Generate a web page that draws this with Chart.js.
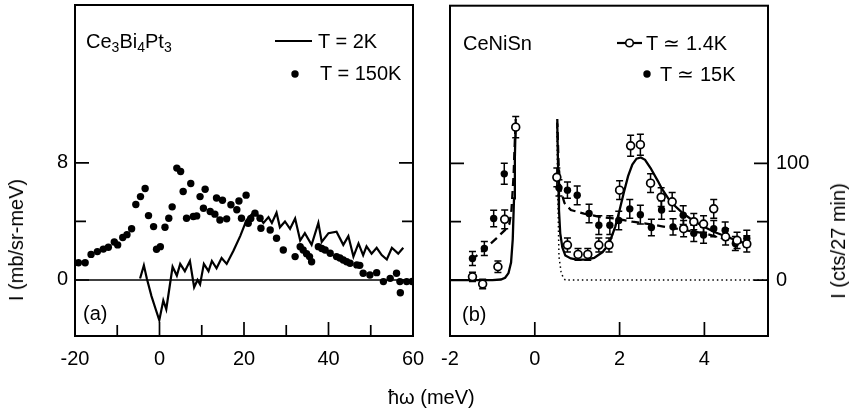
<!DOCTYPE html>
<html>
<head>
<meta charset="utf-8">
<script src="https://cdn.jsdelivr.net/npm/chart.js@4.4.1/dist/chart.umd.min.js"></script>
<style>
  html, body { margin:0; padding:0; background:#fff; }
  #wrap { position:relative; width:849px; height:413px; overflow:hidden; background:#fff;
          font-family:'Liberation Sans', Arial, Helvetica, sans-serif; color:#000; }
  #ca { position:absolute; left:0; top:0; }
  #cb { position:absolute; left:430px; top:0; }
  .t { position:absolute; font-size:20px; line-height:20px; white-space:nowrap; z-index:5; }
  .t sub { font-size:14px; vertical-align:-4px; line-height:0; }
  .rot { transform-origin:center center; }
</style>
</head>
<body>
<div id="wrap">
  <canvas id="ca" width="430" height="413"></canvas>
  <canvas id="cb" width="419" height="413"></canvas>

  <div class="t" style="left:86px; top:31px;">Ce<sub>3</sub>Bi<sub>4</sub>Pt<sub>3</sub></div>
  <div class="t" style="left:318px; top:31px;">T = 2K</div>
  <div class="t" style="left:320px; top:63px;">T = 150K</div>
  <div class="t" style="left:83px; top:303px;">(a)</div>

  <div class="t" style="left:463px; top:33px;">CeNiSn</div>
  <div class="t" style="left:646px; top:33px;">T ≃ 1.4K</div>
  <div class="t" style="left:660px; top:64px;">T ≃ 15K</div>
  <div class="t" style="left:462px; top:304px;">(b)</div>

  <div class="t" id="xt" style="left:388px; top:387px;">ħω (meV)</div>
  <div class="t rot" id="ylt" style="left:16px; top:240px; transform:translate(-50%,-50%) rotate(-90deg);">I (mb/sr-meV)</div>
  <div class="t rot" id="yrt" style="left:838px; top:241px; transform:translate(-50%,-50%) rotate(-90deg);">I (cts/27 min)</div>
</div>

<script>
// ---------------- DATA ----------------
// Panel (a): Ce3Bi4Pt3, x = energy transfer (meV), y = I (mb/sr-meV)
const aXTicks = [-20, -10, 0, 10, 20, 30, 40, 50, 60];
const aXLabels = [-20, 0, 20, 40, 60];
const aYTicks = [0, 4, 8];
const aYLabels = [0, 8];

// T = 2K (solid line)
const a2K = [
  [-4.6, 0.1], [-3.7, 1.0], [-3.0, 0.1], [-1.9, -1.1], [-0.9, -2.0], [-0.05, -2.75],
  [0.9, -1.4], [1.6, -2.0], [3.1, 0.9], [4.1, 0.3], [4.9, 1.1], [6.0, 0.6], [7.2, 1.3],
  [8.2, -0.5], [9.0, 0.0], [9.6, -0.3], [10.5, 1.1], [11.6, 0.6], [12.4, 1.3], [13.5, 0.8],
  [14.7, 1.5], [15.9, 1.1], [17.5, 2.0], [19.1, 3.0], [20.6, 4.1], [22.2, 4.6], [23.4, 4.4],
  [24.6, 3.9], [25.8, 4.3], [26.6, 3.9], [27.7, 4.6], [28.5, 3.6], [29.7, 4.0], [30.9, 3.5],
  [32.1, 4.2], [33.3, 2.7], [34.4, 3.2], [36.0, 2.4], [37.6, 3.9], [38.4, 2.6], [40.0, 3.2],
  [41.9, 3.3], [43.5, 2.4], [44.7, 3.0], [45.9, 1.6], [47.1, 2.5], [48.2, 1.7], [49.0, 2.3],
  [50.2, 1.8], [51.4, 2.2], [52.6, 1.7], [53.8, 1.4], [55.0, 2.2], [56.5, 1.8], [57.7, 2.2]
];

// T = 150K (dots)
const a150K = [
  [-19.2, 1.18], [-17.6, 1.18], [-16.2, 1.75], [-14.7, 1.94], [-13.3, 2.11], [-12.1, 2.24],
  [-10.7, 2.6], [-9.9, 2.4], [-8.7, 2.9], [-7.7, 3.1], [-6.6, 3.5], [-5.6, 5.16], [-4.5, 5.7],
  [-3.4, 6.25], [-2.6, 4.4], [-1.4, 3.65], [-0.7, 2.1], [0.2, 2.28], [1.3, 3.6], [2.2, 4.22],
  [3.0, 5.0], [4.1, 7.65], [5.0, 7.42], [5.6, 6.05], [6.4, 4.22], [7.4, 6.6], [8.0, 4.34],
  [8.8, 4.38], [9.6, 5.7], [10.4, 4.9], [10.8, 6.2], [12.0, 4.68], [13.1, 4.5], [13.5, 5.6],
  [14.3, 4.1], [14.9, 5.45], [15.9, 4.18], [16.9, 5.14], [18.3, 4.8], [18.8, 5.4], [19.4, 4.22],
  [20.5, 5.8], [21.0, 3.88], [21.6, 4.2], [22.6, 4.57], [23.8, 4.22], [24.0, 3.54], [26.2, 3.42],
  [27.7, 2.85], [29.3, 2.05], [32.1, 1.6], [33.3, 2.28], [34.0, 2.05], [34.8, 1.8], [35.5, 1.6],
  [36.0, 1.25], [37.6, 2.28], [38.4, 2.15], [39.2, 2.05], [40.4, 1.83], [41.9, 1.6], [42.7, 1.5],
  [43.5, 1.37], [44.3, 1.25], [45.1, 1.14], [46.7, 1.03], [47.4, 1.0], [48.2, 0.46], [49.8, 0.34],
  [51.4, 0.5], [53.0, -0.11], [54.6, 0.11], [56.1, 0.46], [56.9, -0.11], [57.0, -0.87],
  [58.5, -0.11], [59.8, -0.1]
];
const aZero = [[-20, 0], [60, 0]];

// Panel (b): CeNiSn, x = energy transfer (meV), y = I (cts/27 min)
const bXTicks = [-2, 0, 2, 4];
const bXLabels = [-2, 0, 2, 4];
const bYTicks = [0, 50, 100];
const bYLabels = [0, 100];

// T = 1.4K open circles: [x, I, error]
const b14K = [
  [-1.47, 2.8, 4], [-1.23, -3.4, 4], [-0.87, 11.4, 5], [-0.71, 52, 8], [-0.45, 131, 9],
  [0.52, 88, 8], [0.77, 30, 6], [1.02, 22, 5], [1.25, 22, 5], [1.51, 30, 6], [1.75, 30, 6],
  [2.0, 77, 8], [2.26, 115, 9], [2.49, 116, 9], [2.73, 83, 8], [2.98, 71, 8], [3.24, 67, 8],
  [3.51, 44, 7], [3.75, 50, 7], [3.98, 48, 7], [4.22, 61, 8], [4.5, 37, 7], [4.77, 34, 7], [5.0, 31, 7]
];
// T = 15K filled circles: [x, I, error]
const b15K = [
  [-1.47, 18.5, 6], [-1.19, 27, 6], [-0.97, 52.7, 7], [-0.72, 91, 9],
  [0.57, 79, 7], [0.77, 77, 7], [1.0, 72.6, 8], [1.28, 57, 8], [1.51, 47, 8], [1.77, 47, 8],
  [1.98, 51, 8], [2.24, 61, 8], [2.49, 56, 8], [2.75, 45, 7], [2.99, 60, 8], [3.26, 45.6, 7],
  [3.5, 55.6, 8], [3.75, 40, 7], [3.98, 38.5, 7], [4.22, 44, 7], [4.49, 42.7, 7], [4.73, 31.3, 6], [5.0, 35.6, 7]
];
// fit curves
const bFitSolid = [
  [-2, 0], [-1.0, 0], [-0.8, 0.5], [-0.7, 2], [-0.62, 6], [-0.56, 15], [-0.52, 35], [-0.49, 70],
  [-0.47, 105], [-0.45, 136], null,
  [0.53, 134], [0.55, 95], [0.57, 60], [0.6, 40], [0.65, 28], [0.72, 21], [0.85, 18.5], [1.0, 17.5],
  [1.2, 17.5], [1.4, 19], [1.6, 24], [1.75, 31], [1.9, 46], [2.0, 60], [2.1, 75], [2.2, 89],
  [2.3, 99], [2.4, 104], [2.5, 105], [2.6, 103], [2.73, 96], [2.9, 85], [3.0, 78], [3.2, 67],
  [3.5, 57], [3.75, 50.5], [4.0, 45.5], [4.25, 41], [4.5, 37.5], [4.75, 34], [5.0, 31]
];
const bFitDashed = [
  [-1.5, 17], [-1.2, 26], [-0.9, 36], [-0.7, 43], [-0.6, 48], [-0.55, 60], [-0.5, 90],
  [-0.47, 120], [-0.45, 138], null,
  [0.53, 138], [0.56, 100], [0.6, 78], [0.7, 66], [0.85, 60], [1.16, 57], [1.55, 54],
  [1.95, 52.5], [2.3, 50], [2.7, 48], [3.0, 46], [3.5, 43], [4.0, 40], [4.5, 35], [5.0, 31]
];
const bFitDotted = [
  [0.52, 135], [0.54, 80], [0.57, 20], [0.62, 7], [0.67, 2], [0.72, 0], [5.5, 0]
];

// ---------------- STYLE ----------------
const INK = '#000';
const FONT = "'Liberation Sans', Arial, Helvetica, sans-serif";
const tickFont = { family: FONT, size: 20 };

const pts = arr => arr.map(p => p === null ? { x: NaN, y: NaN } : { x: p[0], y: p[1] });

// Frame + inward ticks
const frameTicks = {
  id: 'frameTicks',
  afterDraw(chart, args, o) {
    const { ctx, chartArea: ca } = chart;
    const xs = chart.scales.x, ys = chart.scales.y;
    ctx.save();
    ctx.strokeStyle = INK;
    ctx.lineWidth = 1.7;
    ctx.beginPath();
    o.xTicks.forEach(v => {
      const p = xs.getPixelForValue(v);
      if (p <= ca.left + 2 || p >= ca.right - 2) return;
      const L = o.xLabels.includes(v) ? o.major : o.minor;
      ctx.moveTo(p, ca.bottom); ctx.lineTo(p, ca.bottom - L);
    });
    o.yTicks.forEach(v => {
      const p = ys.getPixelForValue(v);
      if (p <= ca.top + 2 || p >= ca.bottom - 2) return;
      const L = o.yLabels.includes(v) ? o.major : o.minor;
      ctx.moveTo(ca.left, p); ctx.lineTo(ca.left + L, p);
      ctx.moveTo(ca.right, p); ctx.lineTo(ca.right - L, p);
    });
    ctx.stroke();
    ctx.lineWidth = 2;
    ctx.strokeRect(ca.left, ca.top, ca.right - ca.left, ca.bottom - ca.top);
    // legend markers
    (o.legend || []).forEach(m => {
      ctx.lineWidth = 2.2;
      ctx.beginPath();
      if (m.kind === 'line' || m.kind === 'lineCircle') {
        ctx.moveTo(m.x0, m.y); ctx.lineTo(m.x1, m.y); ctx.stroke();
      }
      if (m.kind === 'lineCircle') {
        ctx.beginPath(); ctx.fillStyle = '#fff'; ctx.lineWidth = 1.6;
        ctx.arc((m.x0 + m.x1) / 2, m.y, 3.8, 0, Math.PI * 2); ctx.fill(); ctx.stroke();
      }
      if (m.kind === 'dot') {
        ctx.beginPath(); ctx.fillStyle = INK;
        ctx.arc(m.x0, m.y, m.r, 0, Math.PI * 2); ctx.fill();
      }
    });
    ctx.restore();
  }
};

// Error bars drawn from dataset values through the scales
const errBars = {
  id: 'errBars',
  beforeDatasetsDraw(chart) {
    const { ctx } = chart;
    const xs = chart.scales.x, ys = chart.scales.y;
    ctx.save();
    ctx.strokeStyle = INK; ctx.lineWidth = 1.5;
    chart.data.datasets.forEach(ds => {
      if (!ds.errors) return;
      ds.data.forEach((p, i) => {
        const e = ds.errors[i];
        const x = xs.getPixelForValue(p.x);
        const y1 = ys.getPixelForValue(p.y - e), y2 = ys.getPixelForValue(p.y + e);
        ctx.beginPath();
        ctx.moveTo(x, y1); ctx.lineTo(x, y2);
        ctx.moveTo(x - 3.5, y1); ctx.lineTo(x + 3.5, y1);
        ctx.moveTo(x - 3.5, y2); ctx.lineTo(x + 3.5, y2);
        ctx.stroke();
      });
    });
    ctx.restore();
  }
};

Chart.defaults.font.family = FONT;
Chart.defaults.color = INK;

const noPadY = (w) => a => { a.width = w; a.paddingTop = 0; a.paddingBottom = 0; };
const noPadX = (h) => a => { a.height = h; a.paddingLeft = 0; a.paddingRight = 0; };

// ---------------- PANEL (a) ----------------
new Chart(document.getElementById('ca'), {
  type: 'scatter',
  data: {
    datasets: [
      { label: 'T = 150K', data: pts(a150K), pointRadius: 3.7, pointBackgroundColor: INK, pointBorderWidth: 0, showLine: false },
      { label: 'T = 2K', data: pts(a2K), showLine: true, borderColor: INK, borderWidth: 2.2, pointRadius: 0, tension: 0 },
      { label: 'zero', data: pts(aZero), showLine: true, borderColor: INK, borderWidth: 1.6, pointRadius: 0 }
    ]
  },
  options: {
    responsive: false, animation: false, devicePixelRatio: 1,
    layout: { padding: { left: 0, right: 17, top: 5, bottom: 0 } },
    plugins: {
      legend: { display: false }, tooltip: { enabled: false },
      frameTicks: {
        xTicks: aXTicks, xLabels: aXLabels, yTicks: aYTicks, yLabels: aYLabels, major: 14, minor: 11,
        legend: [ { kind: 'line', x0: 275, x1: 312, y: 41 }, { kind: 'dot', x0: 295, y: 74, r: 3.7 } ]
      }
    },
    scales: {
      x: {
        type: 'linear', min: -20, max: 60,
        afterBuildTicks: a => { a.ticks = aXTicks.map(v => ({ value: v })); },
        afterFit: noPadX(77),
        grid: { display: false, drawTicks: false }, border: { display: false },
        ticks: { font: tickFont, color: INK, padding: 11, maxRotation: 0, autoSkip: false,
                 callback: v => aXLabels.includes(v) ? String(v) : '' }
      },
      y: {
        type: 'linear', min: -3.83, max: 18.8,
        afterBuildTicks: a => { a.ticks = aYTicks.map(v => ({ value: v })); },
        afterFit: noPadY(75),
        grid: { display: false, drawTicks: false }, border: { display: false },
        ticks: { font: tickFont, color: INK, padding: 7, autoSkip: false,
                 callback: v => aYLabels.includes(v) ? String(v) : '' }
      }
    }
  },
  plugins: [frameTicks]
});

// ---------------- PANEL (b) ----------------
new Chart(document.getElementById('cb'), {
  type: 'scatter',
  data: {
    datasets: [
      { label: 'T = 1.4K', data: pts(b14K), errors: b14K.map(p => p[2]), pointRadius: 3.9,
        pointBackgroundColor: '#fff', pointBorderColor: INK, pointBorderWidth: 1.7, showLine: false },
      { label: 'T = 15K', data: pts(b15K), errors: b15K.map(p => p[2]), pointRadius: 3.7,
        pointBackgroundColor: INK, pointBorderWidth: 0, showLine: false },
      { label: 'fit 1.4K', data: pts(bFitSolid), showLine: true, spanGaps: false, borderColor: INK, borderWidth: 2.3, pointRadius: 0 },
      { label: 'fit 15K', data: pts(bFitDashed), showLine: true, spanGaps: false, borderColor: INK, borderWidth: 2.3, borderDash: [8, 5], pointRadius: 0 },
      { label: 'elastic', data: pts(bFitDotted), showLine: true, borderColor: INK, borderWidth: 1.5, borderDash: [1.5, 3], pointRadius: 0 }
    ]
  },
  options: {
    responsive: false, animation: false, devicePixelRatio: 1,
    layout: { padding: { left: 20, right: 0, top: 5, bottom: 0 } },
    plugins: {
      legend: { display: false }, tooltip: { enabled: false },
      frameTicks: {
        xTicks: bXTicks, xLabels: bXLabels, yTicks: bYTicks, yLabels: bYLabels, major: 14, minor: 11,
        legend: [ { kind: 'lineCircle', x0: 187, x1: 212, y: 43 }, { kind: 'dot', x0: 217, y: 74, r: 3.7 } ]
      }
    },
    scales: {
      x: {
        type: 'linear', min: -2, max: 5.5,
        afterBuildTicks: a => { a.ticks = bXTicks.map(v => ({ value: v })); },
        afterFit: noPadX(77),
        grid: { display: false, drawTicks: false }, border: { display: false },
        ticks: { font: tickFont, color: INK, padding: 11, maxRotation: 0, autoSkip: false,
                 callback: v => bXLabels.includes(v) ? String(v) : '' }
      },
      y: {
        type: 'linear', position: 'right', min: -47.9, max: 235,
        afterBuildTicks: a => { a.ticks = bYTicks.map(v => ({ value: v })); },
        afterFit: noPadY(81),
        grid: { display: false, drawTicks: false }, border: { display: false },
        ticks: { font: tickFont, color: INK, padding: 8, autoSkip: false,
                 callback: v => bYLabels.includes(v) ? String(v) : '' }
      }
    }
  },
  plugins: [frameTicks, errBars]
});
</script>
</body>
</html>
